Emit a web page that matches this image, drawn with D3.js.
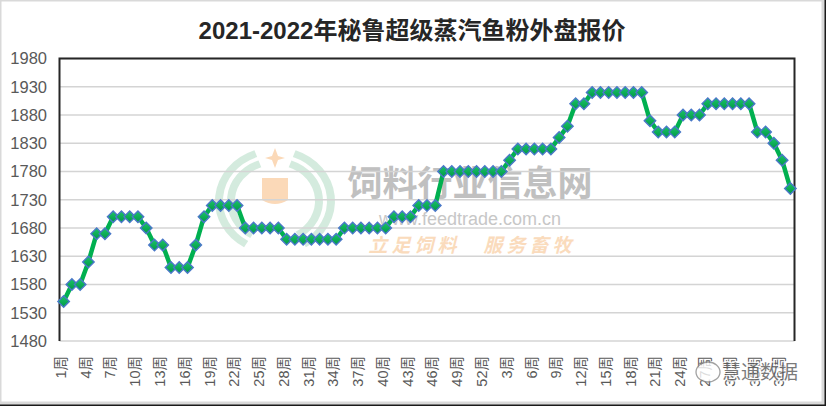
<!DOCTYPE html>
<html>
<head>
<meta charset="utf-8">
<script src="https://cdn.jsdelivr.net/npm/d3@7"></script>
<style>
  html, body { margin: 0; padding: 0; background: #fff; }
  svg { display: block; }
</style>
</head>
<body>
<svg id="chart" width="826" height="406"></svg>
<script>
// week labels: 2021 weeks 1-52, then 2022 weeks 1-37
const weeks2021 = d3.range(1, 53).map(w => w + '周');
const weeks2022 = d3.range(1, 38).map(w => w + '周');
const categories = weeks2021.concat(weeks2022);

// price, USD/t
const prices = [
  1550, 1580, 1580, 1620, 1670, 1670, 1700, 1700, 1700, 1700,
  1680, 1650, 1650, 1610, 1610, 1610, 1650, 1700, 1720, 1720,
  1720, 1720, 1680, 1680, 1680, 1680, 1680, 1660, 1660, 1660,
  1660, 1660, 1660, 1660, 1680, 1680, 1680, 1680, 1680, 1680,
  1700, 1700, 1700, 1720, 1720, 1720, 1780, 1780, 1780, 1780,
  1780, 1780, 1780, 1780, 1800, 1820, 1820, 1820, 1820, 1820,
  1840, 1860, 1900, 1900, 1920, 1920, 1920, 1920, 1920, 1920,
  1920, 1870, 1850, 1850, 1850, 1880, 1880, 1880, 1900, 1900,
  1900, 1900, 1900, 1900, 1850, 1850, 1830, 1800, 1750
];

const yTicks = d3.range(1480, 1981, 50);
const title = '2021-2022年秘鲁超级蒸汽鱼粉外盘报价';

const W = 826, H = 406;
const plot = { left: 59.5, right: 794.5, top: 58.5, bottom: 341 };
const font = '"Liberation Sans", "Noto Sans CJK SC", sans-serif';

const svg = d3.select('#chart');

// chart frame + shadow
svg.append('rect').attr('x', 0).attr('y', 0).attr('width', W).attr('height', H).attr('fill', '#1a1a1a');
svg.append('rect').attr('x', 0).attr('y', 0).attr('width', W - 3).attr('height', H - 3).attr('fill', '#fff')
  .attr('stroke', '#d9d9d9').attr('stroke-width', 3);

const x = d3.scaleBand().domain(d3.range(categories.length)).range([plot.left, plot.right]);
const cx = i => x(i) + x.bandwidth() / 2;
const y = d3.scaleLinear().domain([1480, 1980]).range([plot.bottom, plot.top]);

// watermark (behind the data)
const wm = svg.append('g').attr('pointer-events', 'none');
const ring = d3.arc();
[[40, 48], [52, 60]].forEach(([r0, r1]) => {
  [[-2.6, -0.35], [0.35, 2.6]].forEach(([a0, a1]) => {
    wm.append('path')
      .attr('transform', 'translate(275,201) scale(1,0.9)')
      .attr('d', ring({ innerRadius: r0, outerRadius: r1, startAngle: a0, endAngle: a1 }))
      .attr('fill', '#cde8d8').attr('opacity', 0.85);
  });
});
wm.append('path').attr('d', 'M262,178 h26 v22 q-13,8 -26,0 z').attr('fill', '#fbd9b8');
wm.append('path').attr('d', 'M275,148 l3,8 l7,2 l-7,2 l-3,8 l-3,-8 l-7,-2 l7,-2 z').attr('fill', '#fbd9b8');
wm.append('text').attr('x', 470).attr('y', 196).attr('text-anchor', 'middle')
  .attr('font-family', '"Noto Sans CJK SC", sans-serif').attr('font-size', 35).attr('font-weight', 'bold')
  .attr('fill', '#a6a6a6').attr('opacity', 0.7).text('饲料行业信息网');
wm.append('text').attr('x', 470).attr('y', 225).attr('text-anchor', 'middle')
  .attr('font-family', font).attr('font-size', 18)
  .attr('fill', '#b0b0b0').attr('opacity', 0.7).text('www.feedtrade.com.cn');
wm.append('text').attr('x', 472).attr('y', 252).attr('text-anchor', 'middle')
  .attr('font-family', '"Noto Sans CJK SC", sans-serif').attr('font-size', 19).attr('font-weight', 'bold')
  .attr('font-style', 'italic').attr('letter-spacing', 4)
  .attr('fill', '#f9cfa6').attr('opacity', 0.75).text('立足饲料　服务畜牧');

// gridlines
svg.append('g').selectAll('line').data(yTicks).join('line')
  .attr('x1', plot.left).attr('x2', plot.right)
  .attr('y1', d => y(d)).attr('y2', d => y(d))
  .attr('stroke', '#d4d4d4').attr('stroke-width', 1.5);

// plot border (top, left, right)
svg.append('path')
  .attr('d', `M${plot.left},${plot.bottom} V${plot.top} H${plot.right} V${plot.bottom}`)
  .attr('fill', 'none').attr('stroke', '#262626').attr('stroke-width', 2);

// y axis labels
svg.append('g').selectAll('text').data(yTicks).join('text')
  .attr('x', 47).attr('y', d => y(d)).attr('dy', '0.36em')
  .attr('text-anchor', 'end')
  .attr('font-family', font).attr('font-size', 16.5).attr('fill', '#595959')
  .text(d => d);

// x axis labels, every third week, rotated
svg.append('g').selectAll('text')
  .data(categories.map((c, i) => ({ c, i })).filter(d => d.i % 3 === 0))
  .join('text')
  .attr('transform', d => `translate(${cx(d.i) - 3},356) rotate(-90)`)
  .attr('dy', '0.36em')
  .attr('text-anchor', 'end')
  .attr('font-family', font).attr('font-size', 14.5).attr('fill', '#595959')
  .text(d => d.c);

// title
svg.append('text').attr('x', 412).attr('y', 39).attr('text-anchor', 'middle')
  .attr('font-family', font).attr('font-size', 24).attr('font-weight', 'bold').attr('fill', '#262626')
  .text(title);

// gradient for markers
const grad = svg.append('defs').append('linearGradient').attr('id', 'mk')
  .attr('x1', '0').attr('y1', '0').attr('x2', '1').attr('y2', '1');
grad.append('stop').attr('offset', '0%').attr('stop-color', '#1cc46a');
grad.append('stop').attr('offset', '100%').attr('stop-color', '#009944');

// line
const line = d3.line().x((d, i) => cx(i)).y(d => y(d));
svg.append('path').datum(prices)
  .attr('d', line).attr('fill', 'none')
  .attr('stroke', '#00b050').attr('stroke-width', 4.5).attr('stroke-linejoin', 'round');

// diamond markers
const diamond = d3.symbol(d3.symbolSquare, 66);
svg.append('g').selectAll('path').data(prices).join('path')
  .attr('transform', (d, i) => `translate(${cx(i)},${y(d)}) rotate(45)`)
  .attr('d', diamond)
  .attr('fill', 'url(#mk)').attr('stroke', '#4a78c8').attr('stroke-width', 1.4);

// wechat source mark
const wx = svg.append('g').attr('opacity', 0.8);
wx.append('ellipse').attr('cx', 708).attr('cy', 372).attr('rx', 12).attr('ry', 10)
  .attr('fill', '#fff').attr('stroke', '#8c8c8c').attr('stroke-width', 1.3);
wx.append('text').attr('x', 760).attr('y', 379).attr('text-anchor', 'middle')
  .attr('font-family', '"Noto Sans CJK SC", sans-serif').attr('font-size', 19)
  .attr('fill', '#595959').attr('stroke', '#fff').attr('stroke-width', 2.5).attr('paint-order', 'stroke')
  .text('慧通数据');
</script>
</body>
</html>
